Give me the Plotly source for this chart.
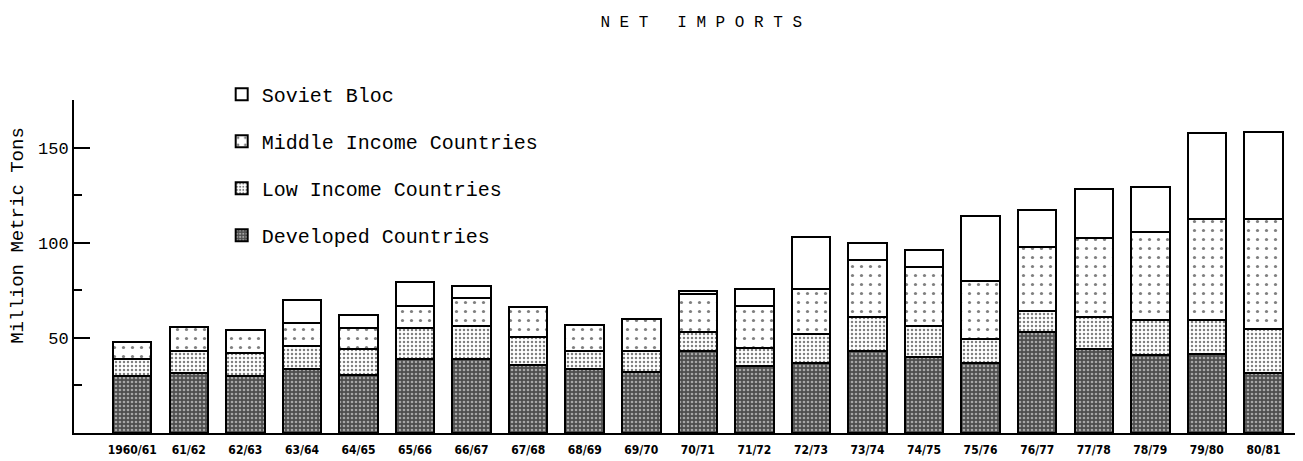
import plotly.graph_objects as go

categories = ["1960/61", "61/62", "62/63", "63/64", "64/65", "65/66", "66/67",
              "67/68", "68/69", "69/70", "70/71", "71/72", "72/73", "73/74",
              "74/75", "75/76", "76/77", "77/78", "78/79", "79/80", "80/81"]
developed = [30, 31.5, 30, 33.5, 30.5, 39, 39, 36, 33.5, 32, 43, 35, 37, 43,
             40, 37, 53, 44, 41, 41.5, 31.5]
low_income = [9, 11.5, 12, 12, 13.5, 16, 17, 14.5, 9.5, 11, 10, 9.5, 15, 18,
              16, 12.5, 11, 17, 18.5, 18, 23]
middle_income = [9, 12.5, 12, 12.3, 11, 11.5, 15, 15.5, 13.5, 17, 20, 22, 23.5, 30,
                 31, 30.5, 34, 41.5, 46, 53, 58]
soviet_bloc = [0, 0, 0, 12.3, 7, 13, 6, 0, 0, 0, 1.5, 9, 27.5, 9,
               9, 34, 19, 25.5, 24, 45, 45.5]

MONO = "Liberation Mono, Courier New, monospace"

series = [
    ("Developed Countries", developed, "#4e4e4e",
     dict(shape=".", size=4, solidity=0.35, fgcolor="white", fillmode="overlay"), 4),
    ("Low Income Countries", low_income, "white",
     dict(shape=".", size=4, solidity=0.3, fgcolor="black", bgcolor="white"), 3),
    ("Middle Income Countries", middle_income, "white",
     dict(shape=".", size=9, solidity=0.1, fgcolor="black", bgcolor="white"), 2),
    ("Soviet Bloc", soviet_bloc, "white",
     dict(shape="", fgcolor="black", bgcolor="white"), 1),
]

fig = go.Figure()
for name, vals, color, pat, rank in series:
    fig.add_trace(go.Bar(
        x=categories, y=vals, name=name, legendgroup=name, legendrank=rank,
        marker=dict(color=color,
                    line=dict(color="black", width=2),
                    pattern=pat),
    ))

fig.update_layout(
    barmode="stack",
    bargap=0.32,
    width=1303, height=461,
    margin=dict(l=66, r=8, t=92, b=36, autoexpand=False),
    paper_bgcolor="white", plot_bgcolor="white",
    font=dict(family=MONO, color="black"),
    title=dict(text="N E T   I M P O R T S", x=0.532, xanchor="center",
               y=0.97, yanchor="middle",
               font=dict(family=MONO, size=16, color="black")),
    legend=dict(xref="container", yref="container",
                x=0.164, xanchor="left", y=0.855, yanchor="top",
                traceorder="grouped", tracegroupgap=18,
                font=dict(family=MONO, size=20, color="black"),
                bgcolor="rgba(0,0,0,0)"),
    showlegend=True,
)

fig.update_xaxes(
    range=[-1.03, 20.7],
    showline=True, linecolor="black", linewidth=2,
    showgrid=False, ticks="", ticklabelstandoff=5,
    tickfont=dict(family="Liberation Sans Narrow, DejaVu Sans Condensed, Arial Narrow, sans-serif",
                  size=12, weight="bold", color="black"),
)
fig.update_yaxes(
    range=[0, 175],
    tickvals=[50, 100, 150],
    showline=True, linecolor="black", linewidth=2,
    showgrid=False, zeroline=False,
    ticks="inside", ticklen=16, tickwidth=2, tickcolor="black",
    tickfont=dict(family=MONO, size=17, color="black"),
    minor=dict(tickvals=[25, 75, 125, 175], ticks="inside", ticklen=8,
               tickwidth=2, tickcolor="black", showgrid=False),
)

fig.add_annotation(
    text="Million Metric Tons", textangle=-90,
    xref="paper", yref="paper", x=-0.0456, y=0.595,
    xanchor="center", yanchor="middle", showarrow=False,
    font=dict(family=MONO, size=19, color="black"),
)

fig.write_html("out.html")
